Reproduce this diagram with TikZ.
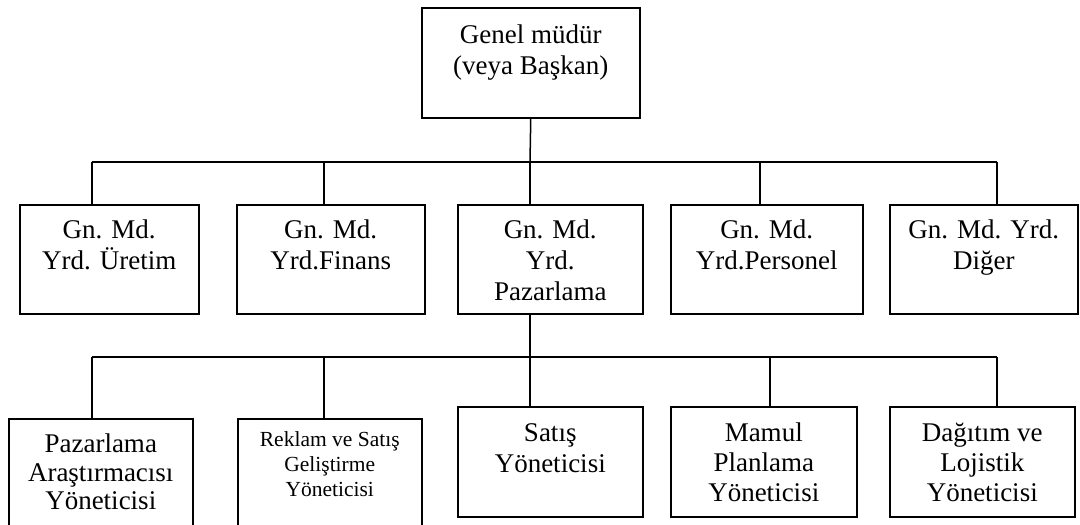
\documentclass[tikz,border=0pt]{standalone}
\usepackage{fontspec}
\setmainfont{Liberation Serif}
% Box body: width, height, distance from top edge to first baseline, lines
\newcommand{\boxbody}[4]{\parbox[c][#2][t]{#1}{\centering\rule{0pt}{#3}#4\par}}
\tikzset{
  orgbox/.style={draw, line width=1.5pt, inner sep=0pt, anchor=north west,
    font=\fontsize{27}{31}\selectfont},
  link/.style={line width=1.5pt}
}
\begin{document}
\begin{tikzpicture}[x=1pt, y=-1pt]
\useasboundingbox (0,0) rectangle (1080,525);

% General manager
\node[orgbox] (gm) at (421,7) {\boxbody{218pt}{110pt}{36pt}{Genel müdür\\(veya Başkan)}};

% Deputy general managers
\node[orgbox] (b1) at (19,204)  {\boxbody{179pt}{109pt}{34pt}{Gn. Md.\\Yrd. Üretim}};
\node[orgbox] (b2) at (236,204) {\boxbody{188pt}{109pt}{34pt}{Gn. Md.\\Yrd.Finans}};
\node[orgbox] (b3) at (457,204) {\boxbody{185pt}{109pt}{34pt}{Gn. Md.\\Yrd.\\Pazarlama}};
\node[orgbox] (b4) at (670,204) {\boxbody{192pt}{109pt}{34pt}{Gn. Md.\\Yrd.Personel}};
\node[orgbox] (b5) at (889,204) {\boxbody{188pt}{109pt}{34pt}{Gn. Md. Yrd.\\Diğer}};

% Marketing managers
\node[orgbox, font=\fontsize{27}{28.5}\selectfont] (c1) at (8,418)
  {\boxbody{184pt}{112pt}{34pt}{Pazarlama\\Araştırmacısı\\Yöneticisi}};
\node[orgbox, font=\fontsize{21.5}{25}\selectfont] (c2) at (237,418)
  {\boxbody{184pt}{112pt}{28pt}{Reklam ve Satış\\Geliştirme\\Yöneticisi}};
\node[orgbox, font=\fontsize{27}{31}\selectfont] (c3) at (457,406)
  {\boxbody{185pt}{110pt}{35pt}{Satış\\Yöneticisi}};
\node[orgbox, font=\fontsize{27}{30}\selectfont] (c4) at (670,406)
  {\boxbody{186pt}{110pt}{35pt}{Mamul\\Planlama\\Yöneticisi}};
\node[orgbox, font=\fontsize{27}{30}\selectfont] (c5) at (889,406)
  {\boxbody{185pt}{110pt}{35pt}{Dağıtım ve\\Lojistik\\Yöneticisi}};

% Junction points on the two buses
\coordinate (j1) at (92,162);
\coordinate (j2) at (324,162);
\coordinate (j3) at (530,162);
\coordinate (j4) at (760,162);
\coordinate (j5) at (997,162);
\coordinate (k1) at (92,357);
\coordinate (k2) at (324,357);
\coordinate (k3) at (530,357);
\coordinate (k4) at (770,357);
\coordinate (k5) at (997,357);

% Upper level
\draw[link] (gm.south) -- (j3);
\draw[link] (j1) -- (j5);
\foreach \i in {1,...,5} \draw[link] (j\i) -- (j\i |- b\i.north);

% Lower level
\draw[link] (j3 |- b3.south) -- (k3);
\draw[link] (k1) -- (k5);
\foreach \i in {1,...,5} \draw[link] (k\i) -- (k\i |- c\i.north);
\end{tikzpicture}
\end{document}
